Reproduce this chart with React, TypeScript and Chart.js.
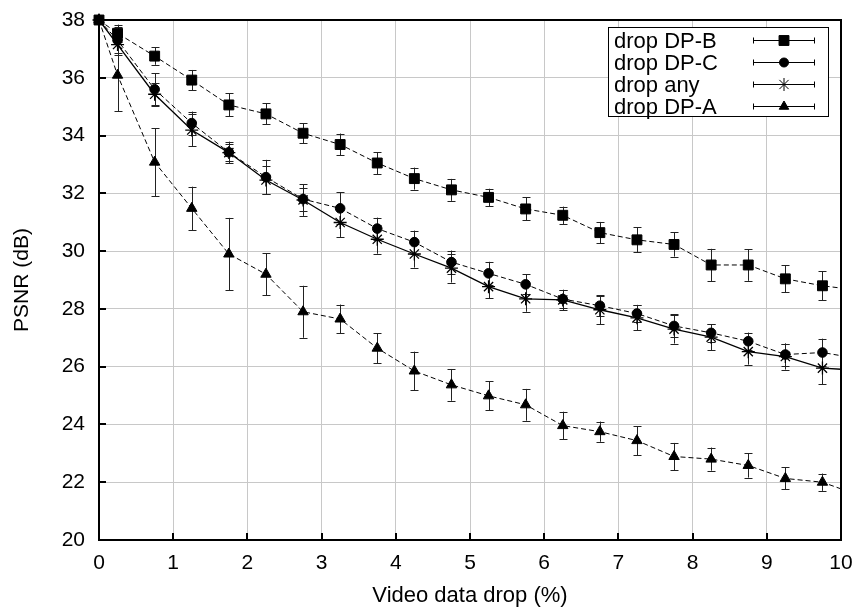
import React, { useEffect, useRef } from "react";
import { Chart, registerables } from "chart.js";
import { drawPoint } from "chart.js/helpers";

Chart.register(...registerables);

// ---- data ----
const xValues = [0, 0.25, 0.75, 1.25, 1.75, 2.25, 2.75, 3.25, 3.75, 4.25, 4.75, 5.25, 5.75, 6.25, 6.75, 7.25, 7.75, 8.25, 8.75, 9.25, 9.75, 10.25];

const dpB = [38, 37.54, 36.75, 35.92, 35.06, 34.75, 34.08, 33.69, 33.05, 32.51, 32.12, 31.86, 31.46, 31.24, 30.64, 30.39, 30.23, 29.52, 29.52, 29.04, 28.8, 28.64];
const dpBErr = [0, 0.3, 0.3, 0.35, 0.4, 0.36, 0.35, 0.38, 0.38, 0.38, 0.38, 0.3, 0.4, 0.3, 0.37, 0.43, 0.42, 0.56, 0.55, 0.47, 0.5, 0];

const dpC = [38, 37.3, 35.6, 34.43, 33.42, 32.56, 31.8, 31.48, 30.78, 30.31, 29.62, 29.23, 28.85, 28.34, 28.11, 27.84, 27.41, 27.17, 26.88, 26.42, 26.49, 26.27];
const dpCErr = [0, 0.45, 0.55, 0.4, 0.37, 0.6, 0.4, 0.55, 0.38, 0.4, 0.4, 0.4, 0.35, 0.32, 0.35, 0.3, 0.4, 0.3, 0.3, 0.38, 0.48, 0];

const dropAny = [38, 37.15, 35.43, 34.19, 33.41, 32.46, 31.77, 30.99, 30.41, 29.9, 29.41, 28.77, 28.35, 28.31, 27.97, 27.69, 27.3, 27.02, 26.52, 26.35, 25.95, 25.87];
const dropAnyErr = [0, 0.35, 0.4, 0.55, 0.3, 0.5, 0.55, 0.5, 0.5, 0.47, 0.5, 0.4, 0.45, 0.35, 0.5, 0.43, 0.5, 0.45, 0.45, 0.45, 0.55, 0];

const dpA = [38, 36.09, 33.08, 31.48, 29.9, 29.2, 27.9, 27.65, 26.64, 25.85, 25.37, 24.99, 24.68, 23.96, 23.75, 23.44, 22.89, 22.8, 22.58, 22.13, 22.0, 21.54];
const dpAErr = [0, 1.25, 1.18, 0.75, 1.25, 0.72, 0.9, 0.5, 0.52, 0.67, 0.55, 0.5, 0.55, 0.48, 0.35, 0.5, 0.47, 0.4, 0.42, 0.38, 0.3, 0];

const seriesLabels = ["drop DP-B", "drop DP-C", "drop any", "drop DP-A"];
const xTicks = [0, 1, 2, 3, 4, 5, 6, 7, 8, 9, 10];
const yTicks = [20, 22, 24, 26, 28, 30, 32, 34, 36, 38];
const X_MIN = 0, X_MAX = 10, Y_MIN = 20, Y_MAX = 38;

const FONT = "'Liberation Sans', Arial, Helvetica, sans-serif";

const errorBarsPlugin = {
  id: "errorBarsFrame",
  beforeDatasetsDraw(chart: any) {
    const { ctx, chartArea: a, scales } = chart;
    const xs = scales.x, ys = scales.y;
    ctx.save();
    // frame
    ctx.strokeStyle = "#000";
    ctx.lineWidth = 2;
    ctx.strokeRect(a.left, a.top, a.right - a.left, a.bottom - a.top);
    // inward ticks (left & bottom)
    ctx.beginPath();
    xTicks.forEach((t) => {
      const px = Math.round(xs.getPixelForValue(t));
      ctx.moveTo(px, a.bottom);
      ctx.lineTo(px, a.bottom - 7);
    });
    yTicks.forEach((t) => {
      const py = Math.round(ys.getPixelForValue(t));
      ctx.moveTo(a.left, py);
      ctx.lineTo(a.left + 7, py);
    });
    ctx.stroke();
    // error bars
    ctx.strokeStyle = "#222";
    ctx.lineWidth = 1;
    chart.data.datasets.forEach((ds: any) => {
      ds.data.forEach((p: any, j: number) => {
        const e = ds.errors[j];
        if (!e || p.x > X_MAX) return;
        const px = Math.round(xs.getPixelForValue(p.x)) + 0.5;
        const y1 = ys.getPixelForValue(p.y + e);
        const y2 = ys.getPixelForValue(p.y - e);
        ctx.beginPath();
        ctx.moveTo(px, y1);
        ctx.lineTo(px, y2);
        ctx.moveTo(px - 4, Math.round(y1) + 0.5);
        ctx.lineTo(px + 4, Math.round(y1) + 0.5);
        ctx.moveTo(px - 4, Math.round(y2) + 0.5);
        ctx.lineTo(px + 4, Math.round(y2) + 0.5);
        ctx.stroke();
      });
    });
    ctx.restore();
  },
  afterDraw(chart: any) {
    const { ctx } = chart;
    const bx = 608, by = 27, bw = 220, bh = 89;
    ctx.save();
    ctx.fillStyle = "#fff";
    ctx.fillRect(bx, by, bw, bh);
    ctx.strokeStyle = "#000";
    ctx.lineWidth = 1;
    ctx.strokeRect(bx + 0.5, by + 0.5, bw, bh);
    ctx.font = `22px ${FONT}`;
    ctx.textBaseline = "middle";
    ctx.textAlign = "left";
    chart.data.datasets.forEach((ds: any, i: number) => {
      const cy = Math.round(39.5 + 22 * i) + 0.5;
      ctx.fillStyle = "#000";
      ctx.fillText(ds.label, 614, cy + 1);
      ctx.strokeStyle = "#000";
      ctx.lineWidth = 1;
      ctx.beginPath();
      ctx.moveTo(753, cy);
      ctx.lineTo(815, cy);
      ctx.moveTo(753.5, cy - 3);
      ctx.lineTo(753.5, cy + 3);
      ctx.moveTo(814.5, cy - 3);
      ctx.lineTo(814.5, cy + 3);
      ctx.stroke();
      ctx.fillStyle = "#000";
      drawPoint(ctx, { pointStyle: ds.pointStyle, radius: ds.legendRadius, rotation: 0, borderWidth: 1 }, 784, cy);
    });
    ctx.restore();
  },
};

function makeSeries(label: string, ys: number[], errs: number[], style: string, radius: number, dashed: boolean) {
  return {
    label,
    data: xValues.map((x, i) => ({ x, y: ys[i] })),
    errors: errs,
    borderColor: "#000",
    backgroundColor: "#000",
    borderWidth: dashed ? 1 : 1.3,
    borderDash: dashed ? [5, 3] : [],
    pointStyle: style,
    pointRadius: xValues.map((x) => (x > X_MAX ? 0 : radius)),
    pointBorderWidth: style === "star" ? 1.3 : 1,
    pointBorderColor: "#000",
    pointBackgroundColor: "#000",
    legendRadius: style === "rect" ? 7 : style === "circle" ? 4.5 : style === "star" ? 6.5 : 5.5,
    tension: 0,
    fill: false,
    clip: { left: 15, top: 15, right: 0, bottom: 15 },
  };
}

export default function App() {
  const ref = useRef<HTMLCanvasElement | null>(null);
  useEffect(() => {
    if (!ref.current) return;
    const tickFont = { family: FONT, size: 21 };
    const chart = new Chart(ref.current, {
      type: "line",
      data: {
        datasets: [
          makeSeries(seriesLabels[0], dpB, dpBErr, "rect", 7, true),
          makeSeries(seriesLabels[1], dpC, dpCErr, "circle", 4.8, true),
          makeSeries(seriesLabels[2], dropAny, dropAnyErr, "star", 6.5, false),
          makeSeries(seriesLabels[3], dpA, dpAErr, "triangle", 6, true),
        ] as any,
      },
      options: {
        responsive: false,
        animation: false,
        layout: { padding: { left: 0, right: 16, top: 20, bottom: 0 } },
        plugins: { legend: { display: false }, tooltip: { enabled: false } },
        scales: {
          x: {
            type: "linear",
            min: X_MIN,
            max: X_MAX,
            afterBuildTicks: (s: any) => { s.ticks = xTicks.map((v) => ({ value: v })); },
            afterFit: (s: any) => { s.height = 69; s.paddingLeft = 0; s.paddingRight = 0; },
            ticks: { font: tickFont, color: "#000", padding: 11, maxRotation: 0, autoSkip: false },
            grid: { color: "#c8c8c8", lineWidth: 1, drawTicks: false },
            border: { display: false },
            title: { display: true, text: "Video data drop (%)", color: "#000", font: { family: FONT, size: 22 }, padding: { top: 0, bottom: 0 } },
          },
          y: {
            type: "linear",
            min: Y_MIN,
            max: Y_MAX,
            afterBuildTicks: (s: any) => { s.ticks = yTicks.map((v) => ({ value: v })); },
            afterFit: (s: any) => { s.width = 99; s.paddingTop = 0; s.paddingBottom = 0; },
            ticks: { font: tickFont, color: "#000", padding: 14, autoSkip: false },
            grid: { color: "#c8c8c8", lineWidth: 1, drawTicks: false },
            border: { display: false },
            title: { display: true, text: "PSNR (dB)", color: "#000", font: { family: FONT, size: 21 }, padding: { top: 10, bottom: 0 } },
          },
        },
      } as any,
      plugins: [errorBarsPlugin],
    });
    return () => chart.destroy();
  }, []);
  return (
    <div style={{ position: "absolute", left: 0, top: 0, width: 857, height: 609, background: "#fff" }}>
      <canvas ref={ref} width={857} height={609} style={{ display: "block" }} />
    </div>
  );
}
